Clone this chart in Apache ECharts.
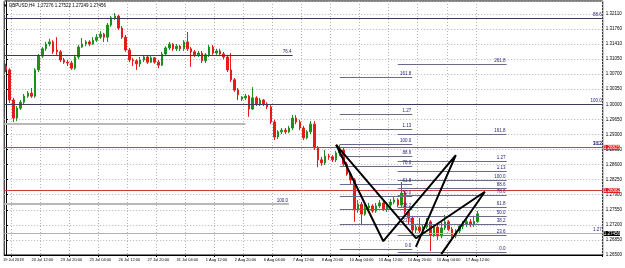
<!DOCTYPE html>
<html>
<head>
<meta charset="utf-8">
<script src="https://cdn.jsdelivr.net/npm/echarts@6/dist/echarts.min.js"></script>
<style>
html,body{margin:0;padding:0;background:#fff}
#main{width:625px;height:268px}
</style>
</head>
<body>
<div id="main"></div>
<script>
// GBPUSD H4, 18 Jul 20:00 .. 17 Aug 12:00
var opens = [1.3089,1.3080,1.3010,1.2968,1.2991,1.3005,1.3019,1.3026,1.3019,1.3080,
1.3112,1.3129,1.3140,1.3145,1.3126,1.3122,1.3103,1.3098,1.3096,1.3084,
1.3110,1.3133,1.3140,1.3145,1.3140,1.3149,1.3156,1.3163,1.3156,1.3184,
1.3201,1.3205,1.3177,1.3156,1.3126,1.3103,1.3101,1.3094,1.3103,1.3110,
1.3098,1.3108,1.3098,1.3091,1.3117,1.3131,1.3140,1.3129,1.3135,1.3129,
1.3145,1.3129,1.3122,1.3115,1.3119,1.3101,1.3115,1.3133,1.3119,1.3124,
1.3117,1.3110,1.3080,1.3057,1.3033,1.3012,1.3015,1.3019,1.2989,1.3015,
1.3001,1.3010,1.3001,1.2994,1.2959,1.2924,1.2936,1.2940,1.2936,1.2945,
1.2968,1.2959,1.2945,1.2922,1.2936,1.2954,1.2899,1.2871,1.2864,1.2880,
1.2878,1.2871,1.2887,1.2894,1.2861,1.2838,1.2824,1.2755,1.2768,1.2745,
1.2759,1.2764,1.2752,1.2764,1.2771,1.2757,1.2766,1.2773,1.2778,1.2766,
1.2794,1.2750,1.2736,1.2708,1.2715,1.2706,1.2715,1.2727,1.2696,1.2715,
1.2694,1.2713,1.2727,1.2710,1.2694,1.2706,1.2717,1.2722,1.2727,1.2720,
1.27276];
var closes = [1.3080,1.3010,1.2968,1.2991,1.3005,1.3019,1.3026,1.3019,1.3080,1.3112,
1.3129,1.3140,1.3145,1.3122,1.3122,1.3103,1.3098,1.3096,1.3084,1.3110,
1.3133,1.3140,1.3145,1.3140,1.3149,1.3156,1.3163,1.3156,1.3184,1.3201,
1.3205,1.3177,1.3156,1.3126,1.3103,1.3101,1.3094,1.3103,1.3110,1.3098,
1.3108,1.3098,1.3091,1.3117,1.3131,1.3140,1.3129,1.3135,1.3129,1.3145,
1.3129,1.3122,1.3115,1.3119,1.3101,1.3115,1.3133,1.3119,1.3124,1.3117,
1.3110,1.3080,1.3057,1.3033,1.3022,1.3017,1.3019,1.2989,1.3015,1.3001,
1.3010,1.3001,1.2994,1.2959,1.2924,1.2936,1.2940,1.2936,1.2945,1.2968,
1.2959,1.2945,1.2922,1.2936,1.2954,1.2899,1.2871,1.2864,1.2880,1.2878,
1.2871,1.2887,1.2894,1.2861,1.2838,1.2824,1.2755,1.2768,1.2745,1.2759,
1.2764,1.2752,1.2764,1.2771,1.2757,1.2766,1.2773,1.2778,1.2766,1.2794,
1.2750,1.2736,1.2708,1.2715,1.2706,1.2715,1.2727,1.2696,1.2715,1.2694,
1.2713,1.2727,1.2710,1.2694,1.2706,1.2717,1.2722,1.2727,1.2720,1.2728,
1.27456];
var lows = [1.3075,1.3003,1.2959,1.2961,1.2987,1.3001,1.3015,1.3015,1.3015,1.3075,
1.3108,1.3124,1.3135,1.3117,1.3115,1.3098,1.3094,1.3089,1.3080,1.3080,
1.3105,1.3131,1.3135,1.3135,1.3138,1.3145,1.3152,1.3145,1.3145,1.3180,
1.3196,1.3173,1.3152,1.3122,1.3098,1.3089,1.3080,1.3087,1.3098,1.3094,
1.3096,1.3094,1.3084,1.3089,1.3112,1.3126,1.3124,1.3124,1.3124,1.3124,
1.3124,1.3087,1.3110,1.3110,1.3096,1.3096,1.3110,1.3115,1.3115,1.3112,
1.3105,1.3075,1.3052,1.3029,1.3010,1.3008,1.3010,1.2971,1.2987,1.2996,
1.2996,1.2996,1.2989,1.2954,1.2917,1.2919,1.2931,1.2931,1.2933,1.2940,
1.2954,1.2940,1.2917,1.2919,1.2931,1.2894,1.2854,1.2857,1.2859,1.2871,
1.2866,1.2866,1.2880,1.2857,1.2834,1.2815,1.2727,1.2748,1.2720,1.2741,
1.2752,1.2748,1.2748,1.2759,1.2752,1.2750,1.2761,1.2768,1.2761,1.2761,
1.2745,1.2720,1.2701,1.2701,1.2699,1.2694,1.2710,1.2659,1.2692,1.2685,
1.2689,1.2708,1.2706,1.2685,1.2689,1.2701,1.2710,1.2715,1.2715,1.2715,
1.27249];
var highs = [1.3094,1.3084,1.3015,1.2996,1.3010,1.3024,1.3031,1.3038,1.3084,1.3117,
1.3133,1.3145,1.3152,1.3149,1.3156,1.3126,1.3108,1.3103,1.3101,1.3115,
1.3138,1.3154,1.3149,1.3149,1.3156,1.3163,1.3170,1.3166,1.3189,1.3205,
1.3212,1.3208,1.3182,1.3161,1.3131,1.3108,1.3105,1.3110,1.3115,1.3115,
1.3112,1.3110,1.3103,1.3122,1.3135,1.3145,1.3142,1.3140,1.3138,1.3149,
1.3168,1.3133,1.3126,1.3124,1.3124,1.3119,1.3138,1.3138,1.3129,1.3129,
1.3122,1.3115,1.3119,1.3061,1.3038,1.3019,1.3024,1.3022,1.3040,1.3019,
1.3015,1.3012,1.3005,1.2998,1.2964,1.2940,1.2945,1.2945,1.2950,1.2975,
1.2975,1.2964,1.2950,1.2940,1.2961,1.2961,1.2903,1.2878,1.2894,1.2885,
1.2882,1.2892,1.2906,1.2899,1.2866,1.2843,1.2829,1.2778,1.2773,1.2766,
1.2771,1.2768,1.2771,1.2778,1.2775,1.2773,1.2780,1.2785,1.2782,1.2820,
1.2801,1.2755,1.2741,1.2722,1.2736,1.2720,1.2736,1.2731,1.2722,1.2720,
1.2727,1.2743,1.2731,1.2715,1.2710,1.2722,1.2729,1.2734,1.2734,1.2741,
1.27522];

var timeLabels = ['19 Jul 2018','20 Jul 12:00','23 Jul 20:00','25 Jul 04:00','26 Jul 12:00','27 Jul 20:00',
  '31 Jul 04:00','1 Aug 12:00','2 Aug 20:00','6 Aug 04:00','7 Aug 12:00','8 Aug 20:00','10 Aug 04:00',
  '13 Aug 12:00','14 Aug 20:00','16 Aug 04:00','17 Aug 12:00'];
var priceLabels = ['1.26500','1.26850','1.27200','1.27550','1.27900','1.28250','1.28600','1.28950',
  '1.29300','1.29650','1.30000','1.30350','1.30700','1.31050','1.31410','1.31760','1.32110'];

// levels that run across the whole chart
var rayPrices = [1.3191, 1.3036, 1.2929, 1.2859, 1.2673];
var rayNames  = ['88.6', '100.0', '38.2', '1.13', '1.27'];

// fibo 1 (8 Aug 20:00 .. 14 Aug)
var fibo1Names  = ['161.8','1.27','1.13','100.0','88.6','78.6','61.8','50.0','38.2','23.6','0.0'];
var fibo1Prices = [1.3064,1.2978,1.2943,1.2908,1.2880,1.2857,1.2815,1.2786,1.2757,1.2722,1.2664];
// fibo 2
var fibo2Names  = ['261.8','161.8','1.27','1.13','100.0','88.6','78.6','61.8','50.0','38.2','23.6','0.0'];
var fibo2Prices = [1.3094,1.2931,1.2868,1.2845,1.2824,1.2806,1.2788,1.2760,1.2741,1.2721,1.2696,1.2657];

// harmonic legs (bar index, price)
var pattern1Bars = [91, 104, 124, 113];
var pattern1Prices = [1.2906, 1.2682, 1.2882, 1.2669];
var pattern2Bars = [91, 113, 132, 120];
var pattern2Prices = [1.2906, 1.2689, 1.2797, 1.2652];

var bid = 1.27456;
var redLevels = [1.28825, 1.28082];

var N = 165; // bars incl. empty right margin
var cats = [];
for (var i = 0; i < N; i++) cats.push(String(i));
var candles = [];
for (var i = 0; i < opens.length; i++) candles.push([opens[i], closes[i], lows[i], highs[i]]);

function isLabelBar(idx) { return idx >= 2 && (idx - 2) % 8 === 0 && (idx - 2) / 8 < timeLabels.length; }

function seg(x0, x1, p, name, color, width) {
  return [{ coord: [x0, p], lineStyle: { color: color, width: width || 1, type: 'solid' },
            label: { formatter: name || '' } }, { coord: [x1, p] }];
}

var lineCol = '#3a3a5e';
var labCol = '#23237a';
var fnt = 'Liberation Sans';

var fibo1 = [], fibo2 = [];
for (var i = 0; i < fibo1Prices.length; i++) fibo1.push(seg(92, 112, fibo1Prices[i], fibo1Names[i], '#6a6a8a'));
for (var i = 0; i < fibo2Prices.length; i++) fibo2.push(seg(108, 138, fibo2Prices[i], fibo2Names[i], '#6a6a8a'));
var others = [
  seg(-0.5, 79, 1.3115, '76.4', lineCol),
  seg(-0.5, 66, 1.2954, '', '#b8b8b8', 2),
  seg(-0.5, 78, 1.2768, '100.0', '#b8b8b8', 2)
];
var rays = [];
for (var i = 0; i < rayPrices.length; i++) {
  rays.push({ yAxis: rayPrices[i], lineStyle: { color: lineCol, width: 1, type: 'solid' }, label: { formatter: rayNames[i] } });
}
var tags = [];
for (var i = 0; i < redLevels.length; i++) {
  tags.push({ yAxis: redLevels[i], lineStyle: { color: '#d43a3a', width: 1, type: 'solid' },
    label: { position: 'end', formatter: redLevels[i].toFixed(5), backgroundColor: '#e01818', color: '#fff' } });
}
tags.push({ yAxis: bid, lineStyle: { color: '#b0b0b0', width: 1, type: 'solid' },
  label: { position: 'end', formatter: bid.toFixed(5), backgroundColor: '#000', color: '#fff' } });

function pts(bars, prices) { return bars.map(function (b, k) { return [b, prices[k]]; }); }

var levelLabel = { show: true, position: 'insideEndTop', distance: 1, fontSize: 4.5, fontFamily: fnt, color: labCol };

var myChart = echarts.init(document.getElementById('main'), null, { renderer: 'canvas' });
var option = {
  animation: false,
  backgroundColor: '#fff',
  grid: { left: 0, right: 19, top: 1, bottom: 13, show: true, borderColor: '#000', borderWidth: 1, backgroundColor: '#fff' },
  graphic: [{ type: 'text', left: 3, top: 3, z: 100,
    style: { text: '\u25BC GBPUSD,H4  1.27276 1.27522 1.27249 1.27456', fontSize: 4.5, fontFamily: fnt, fill: '#000' } }],
  xAxis: [{
    type: 'category', data: cats, boundaryGap: true,
    axisLine: { lineStyle: { color: '#000' } },
    axisTick: { show: true, length: 2, interval: function (idx) { return isLabelBar(idx); }, lineStyle: { color: '#000' } },
    axisLabel: { interval: function (idx) { return isLabelBar(idx); }, fontSize: 4, fontFamily: fnt, color: '#000', margin: 3,
      formatter: function (v, idx) { return isLabelBar(idx) ? timeLabels[(idx - 2) / 8] : ''; } },
    splitLine: { show: true, interval: function (idx) { return isLabelBar(idx); }, lineStyle: { color: '#b4b4b4', type: [1, 2], width: 1 } }
  }, {
    type: 'value', min: -0.5, max: N - 0.5, show: false
  }],
  yAxis: {
    type: 'value', position: 'right', min: 1.265, max: 1.324, interval: 0.0035, scale: true,
    axisLine: { show: true, lineStyle: { color: '#000' } },
    axisTick: { show: true, length: 2, lineStyle: { color: '#000' } },
    axisLabel: { fontSize: 4.5, fontFamily: fnt, color: '#000', margin: 3, showMaxLabel: false,
      formatter: function (v) { var k = Math.round((v - 1.265) / 0.0035); return priceLabels[k] || ''; } },
    splitLine: { show: true, lineStyle: { color: '#b4b4b4', type: [1, 2], width: 1 } }
  },
  series: [
    { type: 'candlestick', data: candles, barWidth: 2,
      itemStyle: { color: '#1c8f1c', color0: '#e51c1c', borderColor: '#1c8f1c', borderColor0: '#e51c1c', borderWidth: 1 },
      markLine: { symbol: ['none', 'none'], silent: true, label: levelLabel, data: rays.concat(tags) } },
    { type: 'line', xAxisIndex: 1, data: [], silent: true,
      markLine: { symbol: ['none', 'none'], silent: true, label: levelLabel, data: fibo1.concat(fibo2).concat(others) } },
    { type: 'line', xAxisIndex: 1, data: pts(pattern1Bars, pattern1Prices), showSymbol: false, silent: true,
      lineStyle: { color: '#000', width: 2 }, z: 5 },
    { type: 'line', xAxisIndex: 1, data: pts(pattern2Bars, pattern2Prices), showSymbol: false, silent: true,
      lineStyle: { color: '#000', width: 2 }, z: 5 }
  ]
};
myChart.setOption(option);
</script>
</body>
</html>
